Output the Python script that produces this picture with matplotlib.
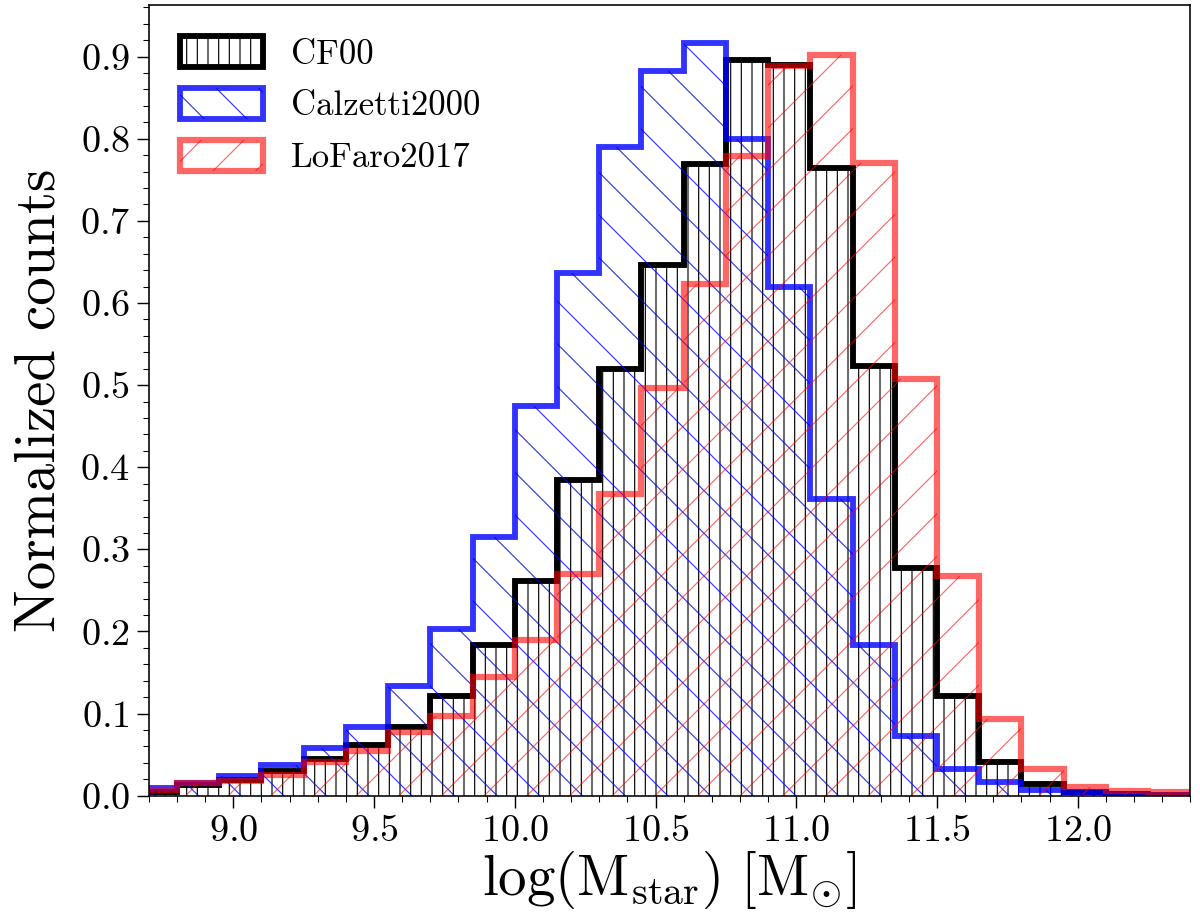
#Stellar mass distributions for the three attenuation laws

import matplotlib
matplotlib.use('Agg')
import matplotlib.pyplot as plt
from matplotlib.ticker import MultipleLocator
import numpy as np

#Bin edges in log(Mstar)
bin_edges = [8.65, 8.80, 8.95, 9.10, 9.25, 9.40, 9.55, 9.70, 9.85, 10.00,
             10.15, 10.30, 10.45, 10.60, 10.75, 10.90, 11.05, 11.20, 11.35,
             11.50, 11.65, 11.80, 11.95, 12.10, 12.25, 12.40]

#Normalized counts per bin
counts_cf00 = [0.005, 0.013, 0.019, 0.030, 0.045, 0.062, 0.084, 0.122, 0.184,
               0.262, 0.384, 0.520, 0.646, 0.769, 0.896, 0.890, 0.764, 0.523,
               0.277, 0.122, 0.041, 0.014, 0.005, 0.002, 0.001]
counts_calzetti = [0.010, 0.016, 0.024, 0.037, 0.058, 0.084, 0.133, 0.203, 0.315,
                   0.474, 0.636, 0.790, 0.883, 0.917, 0.800, 0.620, 0.361, 0.183,
                   0.073, 0.033, 0.017, 0.007, 0.004, 0.001, 0.0005]
counts_lofaro = [0.007, 0.015, 0.018, 0.025, 0.041, 0.054, 0.077, 0.097, 0.144,
                 0.190, 0.270, 0.368, 0.497, 0.623, 0.779, 0.888, 0.902, 0.770,
                 0.508, 0.268, 0.094, 0.032, 0.011, 0.006, 0.004]

labels = ['CF00', 'Calzetti2000', 'LoFaro2017']

plt.rcParams['font.family'] = 'serif'
plt.rcParams['font.serif'] = ['cmr10']
plt.rcParams['mathtext.fontset'] = 'cm'
plt.rcParams['axes.unicode_minus'] = False
plt.rcParams['axes.formatter.use_mathtext'] = True
plt.rcParams['hatch.linewidth'] = 0.65

edges = np.array(bin_edges)
centres = 0.5*(edges[:-1] + edges[1:])

fig = plt.figure(figsize = (1200/128, 912/128), dpi = 128)
ax = fig.add_axes([0.124, 0.1275, 0.868, 0.867])

ax.hist(centres, bins = edges, weights = counts_cf00, histtype = 'step',
        color = 'black', lw = 3.3, hatch = '||', label = labels[0])
ax.hist(centres, bins = edges, weights = counts_calzetti, histtype = 'step',
        color = 'blue', alpha = 0.8, lw = 3.3, hatch = '\\', label = labels[1])
ax.hist(centres, bins = edges, weights = counts_lofaro, histtype = 'step',
        color = 'red', alpha = 0.6, lw = 3.5, hatch = '/', label = labels[2])

ax.set_xlim(8.7, 12.4)
ax.set_ylim(bottom = 0)

ax.xaxis.set_major_locator(MultipleLocator(0.5))
ax.xaxis.set_minor_locator(MultipleLocator(0.1))
ax.yaxis.set_major_locator(MultipleLocator(0.1))
ax.yaxis.set_minor_locator(MultipleLocator(0.02))
ax.tick_params(which = 'major', direction = 'out', length = 7, width = 0.8, labelsize = 21.5)
ax.tick_params(which = 'minor', direction = 'out', length = 3.5, width = 0.6)
for spine in ax.spines.values():
   spine.set_linewidth(0.9)

ax.set_xlabel(r'$\mathrm{log(M_{star})\ [M_{\odot}]}$', fontsize = 32, labelpad = 1)
ax.set_ylabel('Normalized counts', fontsize = 32, labelpad = 8)

ax.legend(loc = 'upper left', frameon = False, fontsize = 19.5, handlelength = 2.4,
          handleheight = 1.0, labelspacing = 0.5, handletextpad = 0.8)

plt.savefig('out.png', dpi = 128)
